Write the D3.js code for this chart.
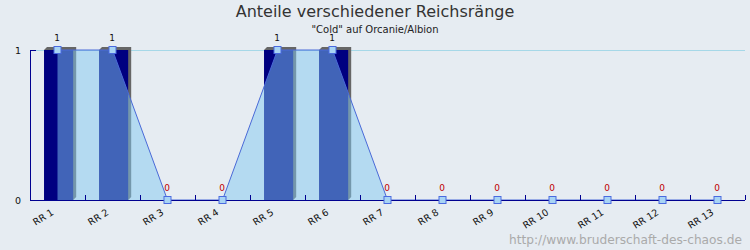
<!DOCTYPE html>
<html>
<head>
<meta charset="utf-8">
<script src="https://cdn.jsdelivr.net/npm/d3@7"></script>
<style>
  body { margin: 0; background: #e6ecf2; }
  svg { display: block; font-family: "DejaVu Sans", Verdana, sans-serif; }
</style>
</head>
<body>
<div id="chart"></div>
<script>
// data
var categories = ["RR 1","RR 2","RR 3","RR 4","RR 5","RR 6","RR 7","RR 8","RR 9","RR 10","RR 11","RR 12","RR 13"];
var barValues  = [1,1,0,0,1,1,0,0,0,0,0,0,0];
var areaValues = [1,1,0,0,1,1,0,0,0,0,0,0,0];
var yTicks = [0, 1];

var width = 750, height = 250;
var plotLeft = 30, plotRight = 745, plotTop = 50, plotBottom = 200;

var svg = d3.select("#chart").append("svg")
    .attr("width", width)
    .attr("height", height);

svg.append("rect").attr("width", width).attr("height", height).attr("fill", "#e6ecf2");

var x = d3.scaleBand().domain(categories).range([plotLeft, plotRight]).padding(0);
var y = d3.scaleLinear().domain([0, 1]).range([plotBottom, plotTop]);
var bw = x.bandwidth();
var cx = function(c){ return x(c) + bw / 2; };

// title
svg.append("text").attr("x", 375).attr("y", 17).attr("text-anchor", "middle")
    .attr("font-size", 16).attr("fill", "#333").text("Anteile verschiedener Reichsränge");
svg.append("text").attr("x", 375).attr("y", 33).attr("text-anchor", "middle")
    .attr("font-size", 10).attr("fill", "#222").text("\"Cold\" auf Orcanie/Albion");

// grid line
svg.selectAll(".grid").data(yTicks.filter(function(d){ return d > 0; })).enter().append("line")
    .attr("x1", plotLeft).attr("x2", plotRight)
    .attr("y1", function(d){ return y(d) + 0.5; }).attr("y2", function(d){ return y(d) + 0.5; })
    .attr("stroke", "#a6d8e8");

// bars with 3d shadow
var bx = function(i){ return x(categories[i]) + bw * 0.255; };
var bW = bw * 0.53;
barValues.forEach(function(v, i){
    if (v <= 0) return;
    var x0 = bx(i), y0 = y(v), h = y(0) - y(v);
    svg.append("path")
        .attr("d", "M" + x0 + "," + y0 + "L" + (x0 + 3) + "," + (y0 - 3) + "L" + (x0 + bW + 3) + "," + (y0 - 3) +
                   "L" + (x0 + bW + 3) + "," + (y0 + h - 3) + "L" + (x0 + bW) + "," + (y0 + h) + "Z")
        .attr("fill", "#666");
    svg.append("rect").attr("x", x0).attr("y", y0).attr("width", bW).attr("height", h)
        .attr("fill", "#000080");
});

// area series
var area = d3.area()
    .x(function(d, i){ return cx(categories[i]); })
    .y0(y(0))
    .y1(function(d){ return y(d); });
svg.append("path").datum(areaValues).attr("d", area)
    .attr("fill", "rgb(130,200,240)").attr("fill-opacity", 0.5);
var line = d3.line()
    .x(function(d, i){ return cx(categories[i]); })
    .y(function(d){ return y(d); });
svg.append("path").datum(areaValues).attr("d", line)
    .attr("fill", "none").attr("stroke", "#4a6ad8").attr("stroke-width", 1);

// axes
svg.append("line").attr("x1", plotLeft + 0.5).attr("x2", plotLeft + 0.5).attr("y1", plotTop).attr("y2", plotBottom)
    .attr("stroke", "#000090");
svg.append("line").attr("x1", plotLeft).attr("x2", plotLeft + 6).attr("y1", plotTop + 0.5).attr("y2", plotTop + 0.5)
    .attr("stroke", "#000090");
svg.append("line").attr("x1", plotLeft).attr("x2", plotRight).attr("y1", plotBottom + 0.5).attr("y2", plotBottom + 0.5)
    .attr("stroke", "#000090");
svg.selectAll(".xtick").data(categories).enter().append("line")
    .attr("x1", function(c){ return x(c) + bw + 0.5; }).attr("x2", function(c){ return x(c) + bw + 0.5; })
    .attr("y1", plotBottom - 5).attr("y2", plotBottom)
    .attr("stroke", "#000090");

svg.selectAll(".ylab").data(yTicks).enter().append("text")
    .attr("x", 21).attr("y", function(d){ return y(d) + 4; })
    .attr("text-anchor", "end").attr("font-size", 9.5).attr("fill", "#111")
    .text(function(d){ return d; });

svg.selectAll(".xlab").data(categories).enter().append("text")
    .attr("transform", function(c){ return "translate(" + (cx(c) - 3) + "," + (plotBottom + 14) + ") rotate(-32)"; })
    .attr("text-anchor", "end").attr("font-size", 9.5).attr("fill", "#111")
    .text(function(c){ return c; });

// point markers
svg.selectAll(".pt").data(areaValues).enter().append("rect")
    .attr("x", function(d, i){ return cx(categories[i]) - 3.5; })
    .attr("y", function(d){ return y(d) - 3.5; })
    .attr("width", 7).attr("height", 7)
    .attr("fill", "#a8d4f4").attr("stroke", "#4a6ae0");

// value labels
svg.selectAll(".val").data(areaValues).enter().append("text")
    .attr("x", function(d, i){ return cx(categories[i]) - 0.5; })
    .attr("y", function(d){ return y(d) - 9; })
    .attr("text-anchor", "middle").attr("font-size", 9)
    .attr("fill", function(d){ return d > 0 ? "#111" : "#c00000"; })
    .text(function(d){ return d; });

// watermark
svg.append("text").attr("x", 742).attr("y", 244).attr("text-anchor", "end")
    .attr("font-size", 12.2).attr("fill", "#aaa").text("http://www.bruderschaft-des-chaos.de");
</script>
</body>
</html>
